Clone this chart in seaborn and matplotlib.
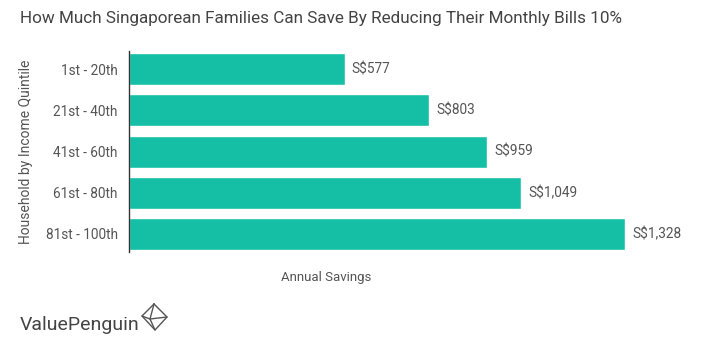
import matplotlib
matplotlib.use("Agg")
import matplotlib.pyplot as plt
import seaborn as sns
import pandas as pd
from matplotlib.lines import Line2D

quintiles = ["1st - 20th", "21st - 40th", "41st - 60th", "61st - 80th", "81st - 100th"]
savings = [577, 803, 959, 1049, 1328]
value_labels = ["S$577", "S$803", "S$959", "S$1,049", "S$1,328"]

df = pd.DataFrame({"quintile": quintiles, "savings": savings})

sns.set_theme(style="white")
plt.rcParams["font.family"] = ["Roboto", "DejaVu Sans"]

fig = plt.figure(figsize=(7.2, 3.41), dpi=100)
ax = fig.add_axes([0.179, 0.261, 0.779, 0.589])

sns.barplot(data=df, x="savings", y="quintile", color="#14bfa6", saturation=1,
            width=0.78, ax=ax, orient="h")

ax.set_xlim(0, 1500)
ax.set_ylim(4.44, -0.44)
ax.set_xticks([])
ax.set_xlabel("")
ax.set_ylabel("Household by Income Quintile", fontsize=10, color="#555555", labelpad=9)
ax.tick_params(axis="y", length=0, labelsize=9.8, labelcolor="#555555", pad=8)
for s in ["top", "right", "bottom"]:
    ax.spines[s].set_visible(False)
ax.spines["left"].set_color("#333333")
ax.spines["left"].set_linewidth(1.0)

for i, (v, lab) in enumerate(zip(savings, value_labels)):
    ax.annotate(lab, xy=(v, i), xytext=(5, 0), textcoords="offset points",
                va="center", ha="left", fontsize=9.8, color="#555555")

fig.text(20 / 720, 1 - 18 / 341, "How Much Singaporean Families Can Save By Reducing Their Monthly Bills 10%",
         fontsize=12.3, color="#444444", va="center", ha="left")
fig.text(326 / 720, 1 - 277 / 341, "Annual Savings", fontsize=9.5, color="#555555",
         va="center", ha="center")
fig.text(20 / 720, 1 - 325 / 341, "ValuePenguin", fontsize=14, color="#444444",
         va="center", ha="left")

# logo mark: folded diamond outline
def px(x, y):
    return (x / 720, 1 - y / 341)

def stroke(points):
    xs, ys = zip(*[px(*p) for p in points])
    fig.add_artist(Line2D(xs, ys, color="#555555", lw=1.0, transform=fig.transFigure))

stroke([(154, 304), (167, 317), (155, 330), (142, 316), (154, 304)])
stroke([(154, 304), (150, 319), (167, 317)])
stroke([(150, 319), (155, 330)])
stroke([(142, 316), (150, 319)])

fig.savefig("out.png", dpi=100)
